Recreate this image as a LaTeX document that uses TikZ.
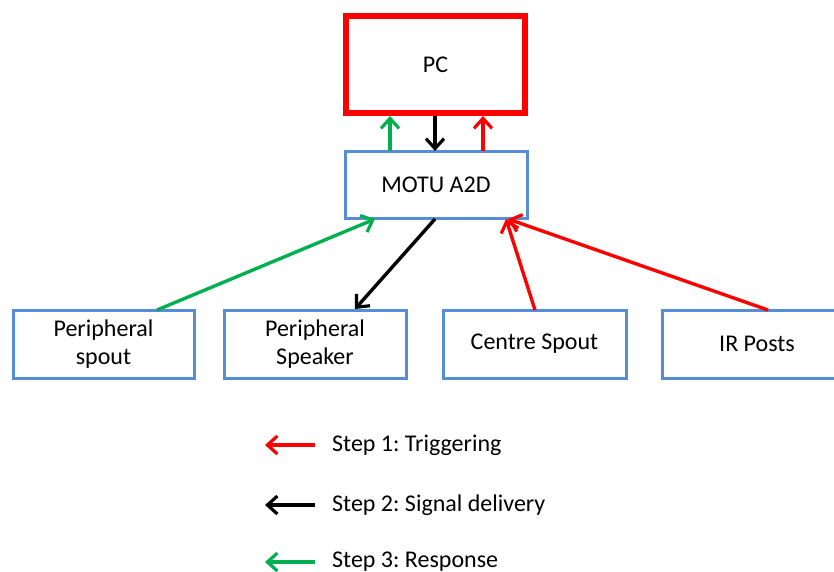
\documentclass[tikz,border=0pt]{standalone}
\usepackage{fontspec}
\setmainfont{Carlito}
\usetikzlibrary{arrows.meta}
\definecolor{boxblue}{RGB}{85,142,213}
\definecolor{gr}{RGB}{0,176,80}
\definecolor{rd}{RGB}{255,0,0}
\frenchspacing
\begin{document}
\begin{tikzpicture}[x=1pt,y=-1pt,
  box/.style={draw=boxblue,line width=3pt,fill=white,inner sep=0pt,align=center,font=\fontsize{24}{28}\selectfont},
  con/.style={line width=3.4pt,-{Straight Barb[length=10pt,width=18pt,line width=3.2pt]}},
  lbl/.style={anchor=west,inner sep=0pt,font=\fontsize{24}{28}\selectfont}]
\useasboundingbox (0,0) rectangle (834,571);
\begin{scope}
\clip (0,0) rectangle (834,571);
\node[draw=rd,line width=6pt,minimum width=179pt,minimum height=97pt,inner sep=0pt,font=\fontsize{24}{28}\selectfont] (pc) at (435.5,64.5) {PC};
\node[box,minimum width=182pt,minimum height=67pt] (motu) at (436,184.5) {MOTU A2D};
\node[box,minimum width=181pt,minimum height=68pt] (ps) at (103.5,344) {Peripheral\\spout};
\node[box,minimum width=182pt,minimum height=68pt] (pk) at (315,344) {Peripheral\\Speaker};
\node[box,minimum width=183pt,minimum height=68pt] (cs) at (534.5,344) {Centre Spout};
\node[box,minimum width=190pt,minimum height=68pt] (ir) at (757,344) {IR Posts};
\end{scope}
% coordinates on borders
\coordinate (g1a) at (390,151);
\coordinate (g1b) at (390,116);
\coordinate (k1a) at (435,116);
\coordinate (k1b) at (435,151);
\coordinate (r1a) at (483,151);
\coordinate (r1b) at (483,116);
\draw[con,gr] (g1a) -- (g1b);
\draw[con,black] (k1a) -- (k1b);
\draw[con,rd] (r1a) -- (r1b);
\draw[con,gr] (157,310) coordinate (g2a) -- (375,219) coordinate (g2b);
\draw[con,black] (435,219) coordinate (k2a) -- (355,309) coordinate (k2b);
\draw[con,rd] (535,310) coordinate (r2a) -- (506,219) coordinate (r2b);
\draw[con,rd] (768,310) coordinate (r3a) -- (508,219) coordinate (r3b);
% legend
\coordinate (l1a) at (315,445); \coordinate (l1b) at (265,445);
\coordinate (l2a) at (315,505); \coordinate (l2b) at (265,505);
\coordinate (l3a) at (315,562); \coordinate (l3b) at (265,562);
\draw[con,rd] (l1a) -- (l1b);
\draw[con,black] (l2a) -- (l2b);
\draw[con,gr] (l3a) -- (l3b);
\node[lbl] (t1) at (332,445) {Step 1: Triggering};
\node[lbl] (t2) at (332,505) {Step 2: Signal delivery};
\node[lbl] (t3) at (332,562) {Step 3: Response};
\end{tikzpicture}
\end{document}
